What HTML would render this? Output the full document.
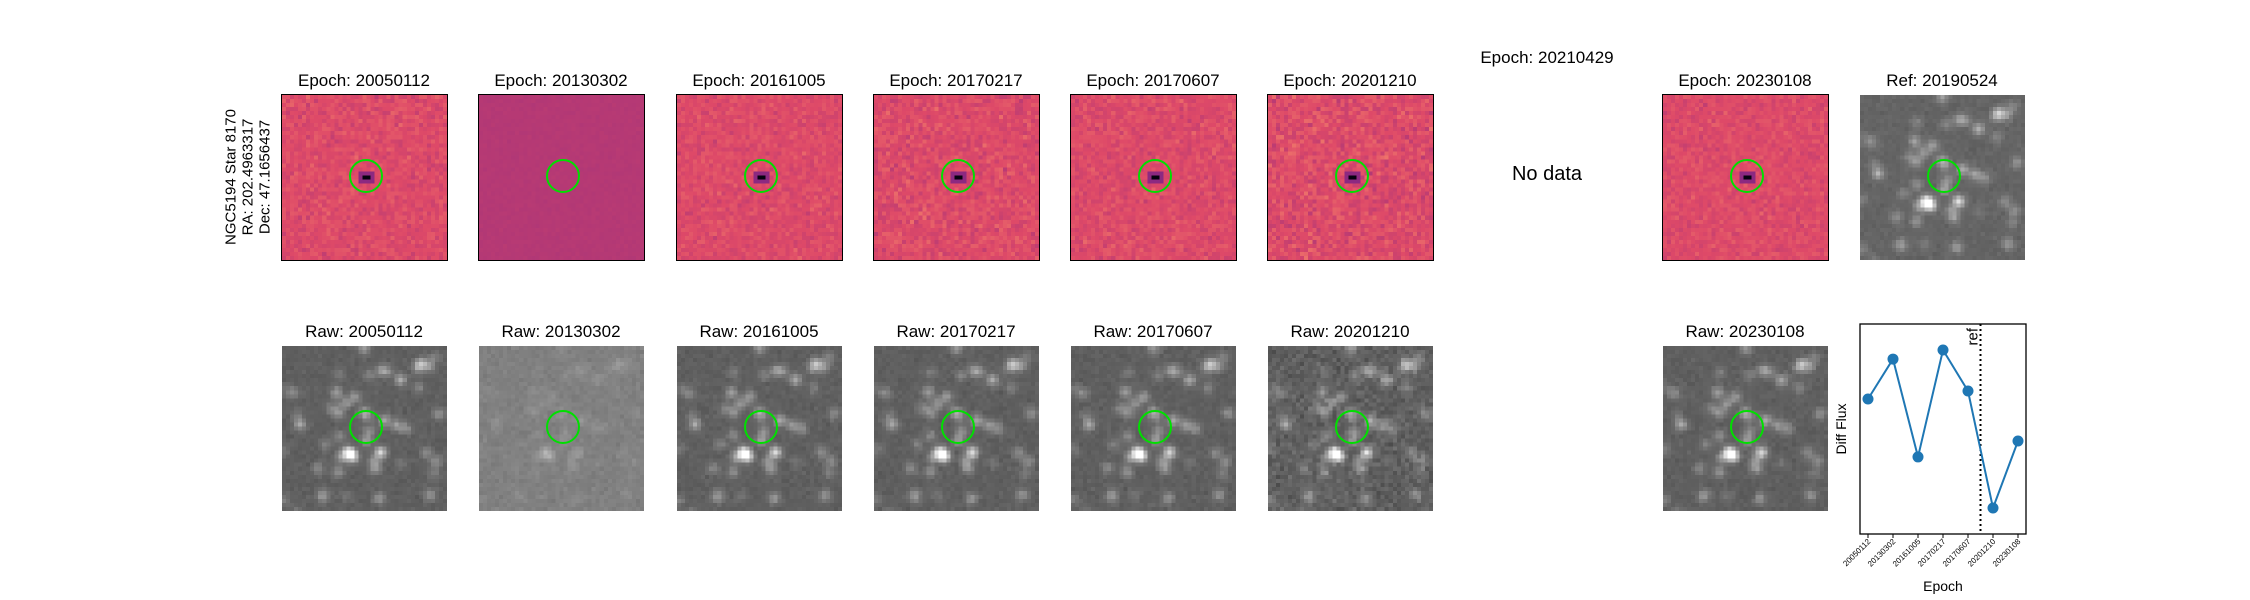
<!DOCTYPE html>
<html><head><meta charset="utf-8"><style>
body{margin:0;background:#fff;width:2250px;height:600px;overflow:hidden;position:relative;font-family:"Liberation Sans","DejaVu Sans",sans-serif}
.t{position:absolute;font-size:17px;color:#000;text-align:center;width:240px;white-space:nowrap}
canvas{position:absolute}
</style></head><body>
<div style="position:absolute;left:248px;top:177px;transform:translate(-50%,-50%) rotate(-90deg);font-size:15px;line-height:17px;text-align:center;white-space:nowrap">NGC5194 Star 8170<br>RA: 202.4963317<br>Dec: 47.1656437</div>
<div class="t" style="left:1427px;top:48px">Epoch: 20210429</div>
<div class="t" style="left:1427px;top:163px;font-size:20px">No data</div>
<div id="root"></div>
<svg id="chart" width="2250" height="600" style="position:absolute;left:0;top:0;pointer-events:none"></svg>
<script>
const categories=["20050112","20130302","20161005","20170217","20170607","20201210","20230108"];
const diffFlux=[64.3,83.3,36.7,87.6,68.1,12.4,44.3];
const refIndex=4.5;

let seed=7;function rnd(){seed=(seed*16807)%2147483647;return seed/2147483647;}
function gauss(){return (rnd()+rnd()+rnd()+rnd()-2)*0.87;}
const N=41;
const stars=[];
for(let i=0;i<40;i++)stars.push([rnd()*N,rnd()*N,0.15+rnd()*0.35]);
stars.push([16,26,1.3],[17,27,1.0],[24,26,1.0],[25,18,0.6],[20,16,0.6],[4,19,0.6],[34,4,0.7],[29,8,0.6],[13,11,0.5],[20.5,23,0.5]);
function magma(t){t=Math.max(0,Math.min(1,t));const s=[[0,0,4],[59,15,112],[140,41,129],[222,73,104],[254,159,109],[252,253,191]];const p=t*5,i=Math.min(4,Math.floor(p)),f=p-i;return s[i].map((v,k)=>Math.round(v+(s[i+1][k]-v)*f));}
const cols=[282,479,677,874,1071,1268,null,1663];
function panel(x,y,title,name,draw,border){
  const d=document.createElement('div');d.className='t';d.textContent=title;d.style.left=(x+82-120)+'px';d.style.top=(y-24)+'px';
  
  
  document.getElementById('root').appendChild(d);
  const c=document.createElement('canvas');c.width=N;c.height=N;c.style.left=x+'px';c.style.top=y+'px';c.style.width='165px';c.style.height='165px';c.style.imageRendering='pixelated';
  if(border){c.style.outline='1.2px solid #000';}
  
  
  const ctx=c.getContext('2d');const im=ctx.createImageData(N,N);
  for(let j=0;j<N;j++)for(let i=0;i<N;i++){const rgb=draw(i,j);const k=(j*N+i)*4;im.data[k]=rgb[0];im.data[k+1]=rgb[1];im.data[k+2]=rgb[2];im.data[k+3]=255;}
  ctx.putImageData(im,0,0);
  document.getElementById('root').appendChild(c);
  const ci=document.createElementNS('http://www.w3.org/2000/svg','svg');ci.setAttribute('width',165);ci.setAttribute('height',165);ci.style.position='absolute';ci.style.left=x+'px';ci.style.top=y+'px';
  ci.innerHTML='<circle cx="84" cy="81" r="16" fill="none" stroke="#00e000" stroke-width="2"/>';
  
  
  document.getElementById('root').appendChild(ci);
}
function sky(i,j){let v=0;for(const s of stars){const dx=i-s[0],dy=j-s[1];v+=s[2]*Math.exp(-(dx*dx+dy*dy)/2.2);}return v;}
function diffDraw(base,noise,dip){return (i,j)=>{let t=base+noise*gauss();if(dip&&(i===20||i===21)&&j===20)t=0.02;else if(dip&&Math.abs(i-20.5)<2&&Math.abs(j-20)<2)t=0.4;return magma(t);};}
function rawDraw(base,amp,noise){return (i,j)=>{const g=Math.max(0,Math.min(255,base+amp*sky(i,j)+noise*gauss()));return [g,g,g];};}
const diffNoise=[0.05,0.008,0.045,0.06,0.05,0.07,null,0.045];
for(let k=0;k<8;k++){if(cols[k]===null)continue;const nm='epoch-'+(k<6?categories[k]:categories[6]);
  panel(cols[k],95,'Epoch: '+(k<6?categories[k]:categories[6]),'diff-'+nm,diffDraw(k===1?0.5:0.6,diffNoise[k],k!==1),true);
  const b=k===1?128:95,a=k===1?30:120,n=k===5?16:7;
  panel(cols[k],346,'Raw: '+(k<6?categories[k]:categories[6]),'raw-'+nm,rawDraw(b,a,n),false);}
panel(1860,95,'Ref: 20190524','ref-20190524',rawDraw(100,120,6),false);

const svg=document.getElementById('chart');const NS='http://www.w3.org/2000/svg';
const L=1860,R=2026,T=324,B=534;
const xS=i=>1868+i*(2018-1868)/(categories.length-1);
const yS=v=>B-v/100*(B-T);
function el(tag,at,name,txt){const e=document.createElementNS(NS,tag);for(const k in at)e.setAttribute(k,at[k]);if(txt!==undefined)e.textContent=txt;


svg.appendChild(e);return e;}
el('rect',{x:L,y:T,width:R-L,height:B-T,fill:'none',stroke:'#000','stroke-width':1.3},'plot-frame');
el('line',{x1:xS(refIndex),x2:xS(refIndex),y1:T,y2:B,stroke:'#000','stroke-width':2,'stroke-dasharray':'2,3'},'ref-line');
el('text',{x:0,y:0,transform:`translate(${xS(refIndex)-3},${T+4}) rotate(-90)`,'text-anchor':'end','font-size':15,'font-family':'Liberation Sans'},'ref-label','ref');
el('polyline',{points:diffFlux.map((v,i)=>xS(i)+','+yS(v)).join(' '),fill:'none',stroke:'#1f77b4','stroke-width':2},'flux-line');
diffFlux.forEach((v,i)=>{el('circle',{cx:xS(i),cy:yS(v),r:5.5,fill:'#1f77b4'},'flux-point-'+categories[i]);});
categories.forEach((c,i)=>{const x=xS(i);el('line',{x1:x,x2:x,y1:B,y2:B+4,stroke:'#000'},'x-tick');
 el('text',{x:0,y:0,transform:`translate(${x+3},${B+8}) rotate(-45)`,'text-anchor':'end','font-size':8,'font-family':'Liberation Sans'},'x-tick-label',c);});
el('text',{x:(L+R)/2,y:591,'text-anchor':'middle','font-size':14,'font-family':'Liberation Sans'},'x-axis-title','Epoch');
el('text',{x:0,y:0,transform:`translate(1846,${(T+B)/2}) rotate(-90)`,'text-anchor':'middle','font-size':14,'font-family':'Liberation Sans'},'y-axis-title','Diff Flux');
</script>
</body></html>
